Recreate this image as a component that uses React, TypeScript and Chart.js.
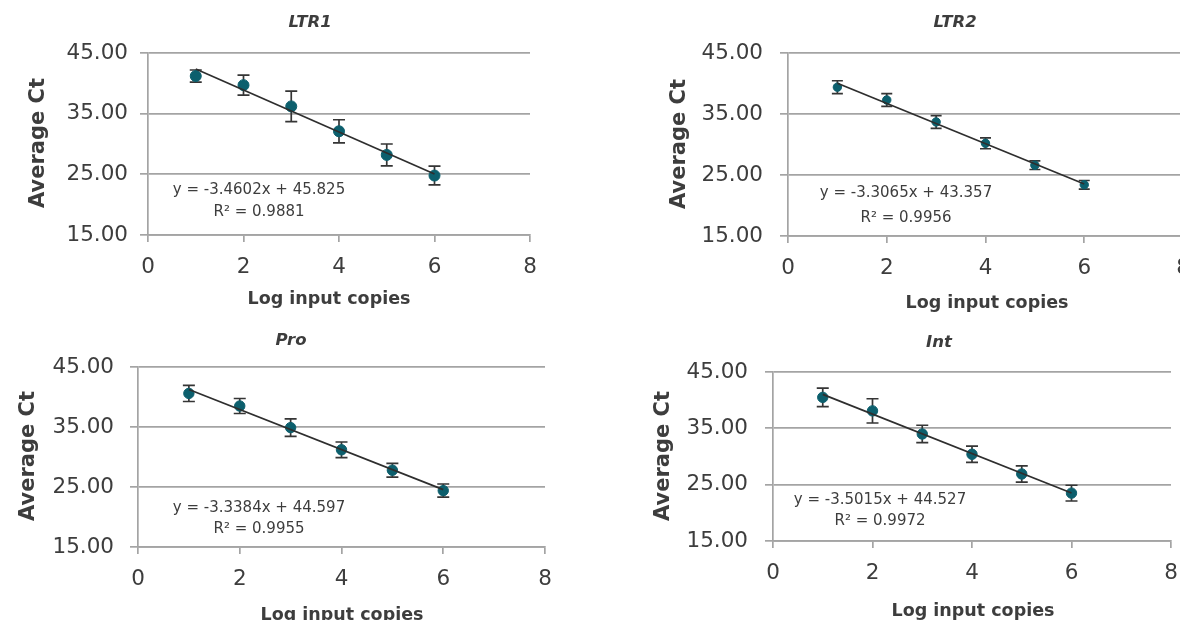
import React, { useEffect, useRef } from "react";
import { Chart, registerables } from "chart.js";
Chart.register(...registerables);

// ---------- data ----------
const xValues = [1, 2, 3, 4, 5, 6];
const xTickValues = [0, 2, 4, 6, 8];
const yTickValues = [15, 25, 35, 45];

const ltr1Mean = [41.2, 39.7, 36.2, 32.1, 28.2, 24.8];
const ltr1Err = [1.0, 1.65, 2.5, 1.9, 1.8, 1.55];
const ltr2Mean = [39.4, 37.3, 33.7, 30.2, 26.6, 23.4];
const ltr2Err = [1.05, 1.05, 1.05, 0.9, 0.7, 0.7];
const proMean = [40.6, 38.5, 34.9, 31.2, 27.8, 24.4];
const proErr = [1.35, 1.25, 1.45, 1.3, 1.15, 1.1];
const intMean = [40.5, 38.1, 34.0, 30.4, 26.9, 23.5];
const intErr = [1.65, 2.15, 1.55, 1.45, 1.45, 1.4];

const panelTitles = ["LTR1", "LTR2", "Pro", "Int"];
const slopes = [-3.4602, -3.3065, -3.3384, -3.5015];
const intercepts = [45.825, 43.357, 44.597, 44.527];
const equations = [
  "y = -3.4602x + 45.825",
  "y = -3.3065x + 43.357",
  "y = -3.3384x + 44.597",
  "y = -3.5015x + 44.527",
];
const rSquared = ["R\u00B2 = 0.9881", "R\u00B2 = 0.9956", "R\u00B2 = 0.9955", "R\u00B2 = 0.9972"];
const yAxisTitle = "Average Ct";
const xAxisTitle = "Log input copies";

const means = [ltr1Mean, ltr2Mean, proMean, intMean];
const errs = [ltr1Err, ltr2Err, proErr, intErr];

// ---------- layout (page pixels) ----------
type Layout = {
  canvas: { l: number; t: number; w: number; h: number };
  area: { l: number; r: number; t: number; b: number };
  title: { x: number; y: number };
  yTitle: { x: number; y: number };
  xTitle: { x: number; y: number };
  eq: { x: number; y1: number; y2: number };
  yPad: number;
  radius: number;
  cap: number;
};

const layouts: Layout[] = [
  {
    canvas: { l: 0, t: 0, w: 590, h: 320 },
    area: { l: 148, r: 530, t: 53, b: 235 },
    title: { x: 310, y: 23 },
    yTitle: { x: 39, y: 143 },
    xTitle: { x: 329, y: 299 },
    eq: { x: 259, y1: 190, y2: 212 },
    yPad: 12,
    radius: 5.5,
    cap: 6,
  },
  {
    canvas: { l: 600, t: 0, w: 610, h: 320 },
    area: { l: 788, r: 1183, t: 53, b: 236 },
    title: { x: 955, y: 23 },
    yTitle: { x: 680, y: 144 },
    xTitle: { x: 987, y: 303 },
    eq: { x: 906, y1: 193, y2: 218 },
    yPad: 17,
    radius: 4.2,
    cap: 5.5,
  },
  {
    canvas: { l: 0, t: 320, w: 600, h: 300 },
    area: { l: 138, r: 545, t: 367, b: 547 },
    title: { x: 291, y: 341 },
    yTitle: { x: 29, y: 456 },
    xTitle: { x: 342, y: 615 },
    eq: { x: 259, y1: 508, y2: 529 },
    yPad: 16,
    radius: 5.2,
    cap: 6,
  },
  {
    canvas: { l: 610, t: 320, w: 600, h: 300 },
    area: { l: 773, r: 1171, t: 372, b: 541 },
    title: { x: 939, y: 343 },
    yTitle: { x: 664, y: 456 },
    xTitle: { x: 973, y: 611 },
    eq: { x: 880, y1: 500, y2: 521 },
    yPad: 17,
    radius: 5.2,
    cap: 6,
  },
];

const FONT = "'DejaVu Sans', sans-serif";
const TEXT = "#3d3d3d";
const GRID = "#a4a4a4";
const TEAL = "#0c5f6d";
const BAR = "#353535";

const panelPlugin = {
  id: "panelDecor",
  beforeDatasetsDraw(chart: any, _a: any, opts: any) {
    const { ctx, scales } = chart;
    const m: number[] = opts.mean;
    const e: number[] = opts.err;
    ctx.save();
    ctx.strokeStyle = BAR;
    ctx.lineWidth = 1.7;
    xValues.forEach((xv, i) => {
      const px = scales.x.getPixelForValue(xv);
      const top = scales.y.getPixelForValue(m[i] + e[i]);
      const bot = scales.y.getPixelForValue(m[i] - e[i]);
      ctx.beginPath();
      ctx.moveTo(px, top);
      ctx.lineTo(px, bot);
      ctx.moveTo(px - opts.cap, top);
      ctx.lineTo(px + opts.cap, top);
      ctx.moveTo(px - opts.cap, bot);
      ctx.lineTo(px + opts.cap, bot);
      ctx.stroke();
    });
    ctx.restore();
  },
  afterDraw(chart: any, _a: any, opts: any) {
    const { ctx } = chart;
    const L: Layout = opts.layout;
    const ox = L.canvas.l;
    const oy = L.canvas.t;
    ctx.save();
    ctx.fillStyle = TEXT;
    ctx.textAlign = "center";
    ctx.textBaseline = "middle";
    // panel title
    ctx.font = `italic bold 16.5px ${FONT}`;
    ctx.fillText(opts.title, L.title.x - ox, L.title.y - oy);
    // x axis title
    ctx.font = `bold 17.5px ${FONT}`;
    ctx.fillText(xAxisTitle, L.xTitle.x - ox, L.xTitle.y - oy);
    // equation
    ctx.font = `15px ${FONT}`;
    ctx.fillText(opts.eq, L.eq.x - ox, L.eq.y1 - oy);
    ctx.fillText(opts.r2, L.eq.x - ox, L.eq.y2 - oy);
    // y axis title
    ctx.translate(L.yTitle.x - ox, L.yTitle.y - oy);
    ctx.rotate(-Math.PI / 2);
    ctx.font = `bold 21px ${FONT}`;
    ctx.fillText(yAxisTitle, 0, 0);
    ctx.restore();
  },
};

function Panel({ idx }: { idx: number }) {
  const ref = useRef<HTMLCanvasElement | null>(null);
  const L = layouts[idx];
  useEffect(() => {
    if (!ref.current) return;
    const mean = means[idx];
    const err = errs[idx];
    const pts = xValues.map((x, i) => ({ x, y: mean[i] }));
    const xs = [xValues[0], xValues[xValues.length - 1]];
    const trend = xs.map((x) => ({ x, y: slopes[idx] * x + intercepts[idx] }));
    const chart = new Chart(ref.current, {
      type: "scatter",
      data: {
        datasets: [
          {
            type: "line",
            data: trend,
            borderColor: "#2e2e2e",
            borderWidth: 1.7,
            pointRadius: 0,
            showLine: true,
            fill: false,
            order: 0,
          } as any,
          {
            data: pts,
            pointRadius: L.radius,
            pointHoverRadius: L.radius,
            backgroundColor: TEAL,
            borderColor: TEAL,
            borderWidth: 1,
            order: 1,
          },
        ],
      },
      options: {
        responsive: false,
        animation: false,
        events: [],
        layout: {
          padding: {
            left: 0,
            bottom: 0,
            top: L.area.t - L.canvas.t,
            right: L.canvas.l + L.canvas.w - L.area.r,
          },
        },
        plugins: {
          legend: { display: false },
          tooltip: { enabled: false },
          title: { display: false },
          panelDecor: {
            layout: L,
            mean,
            err,
            cap: L.cap,
            title: panelTitles[idx],
            eq: equations[idx],
            r2: rSquared[idx],
          },
        } as any,
        scales: {
          x: {
            type: "linear",
            min: 0,
            max: 8,
            afterFit: (s: any) => {
              s.height = L.canvas.t + L.canvas.h - L.area.b;
            },
            afterBuildTicks: (s: any) => {
              s.ticks = xTickValues.map((v) => ({ value: v }));
            },
            ticks: {
              color: TEXT,
              font: { family: FONT, size: 21.5 },
              padding: 13,
              maxRotation: 0,
              callback: (v: any) => String(v),
            },
            grid: {
              drawOnChartArea: false,
              drawTicks: true,
              tickLength: 7,
              color: GRID,
              lineWidth: 1.7,
            },
            border: { display: true, color: GRID, width: 1.7 },
          },
          y: {
            type: "linear",
            min: 15,
            max: 45,
            afterFit: (s: any) => {
              s.width = L.area.l - L.canvas.l;
            },
            afterBuildTicks: (s: any) => {
              s.ticks = yTickValues.map((v) => ({ value: v }));
            },
            ticks: {
              color: TEXT,
              font: { family: FONT, size: 21.5 },
              padding: L.yPad,
              callback: (v: any) => Number(v).toFixed(2),
            },
            grid: {
              drawOnChartArea: true,
              drawTicks: true,
              tickLength: 8,
              color: GRID,
              lineWidth: 1.7,
            },
            border: { display: true, color: GRID, width: 1.7 },
          },
        },
      },
      plugins: [panelPlugin],
    } as any);
    return () => chart.destroy();
  }, [idx]);
  return (
    <canvas
      ref={ref}
      width={L.canvas.w}
      height={L.canvas.h}
      style={{ position: "absolute", left: L.canvas.l, top: L.canvas.t, width: L.canvas.w, height: L.canvas.h }}
    />
  );
}

export default function App() {
  return (
    <div
      style={{
        position: "absolute",
        left: 0,
        top: 0,
        width: 1180,
        height: 620,
        overflow: "hidden",
        background: "#ffffff",
      }}
    >
      {[0, 1, 2, 3].map((i) => (
        <Panel key={i} idx={i} />
      ))}
    </div>
  );
}
